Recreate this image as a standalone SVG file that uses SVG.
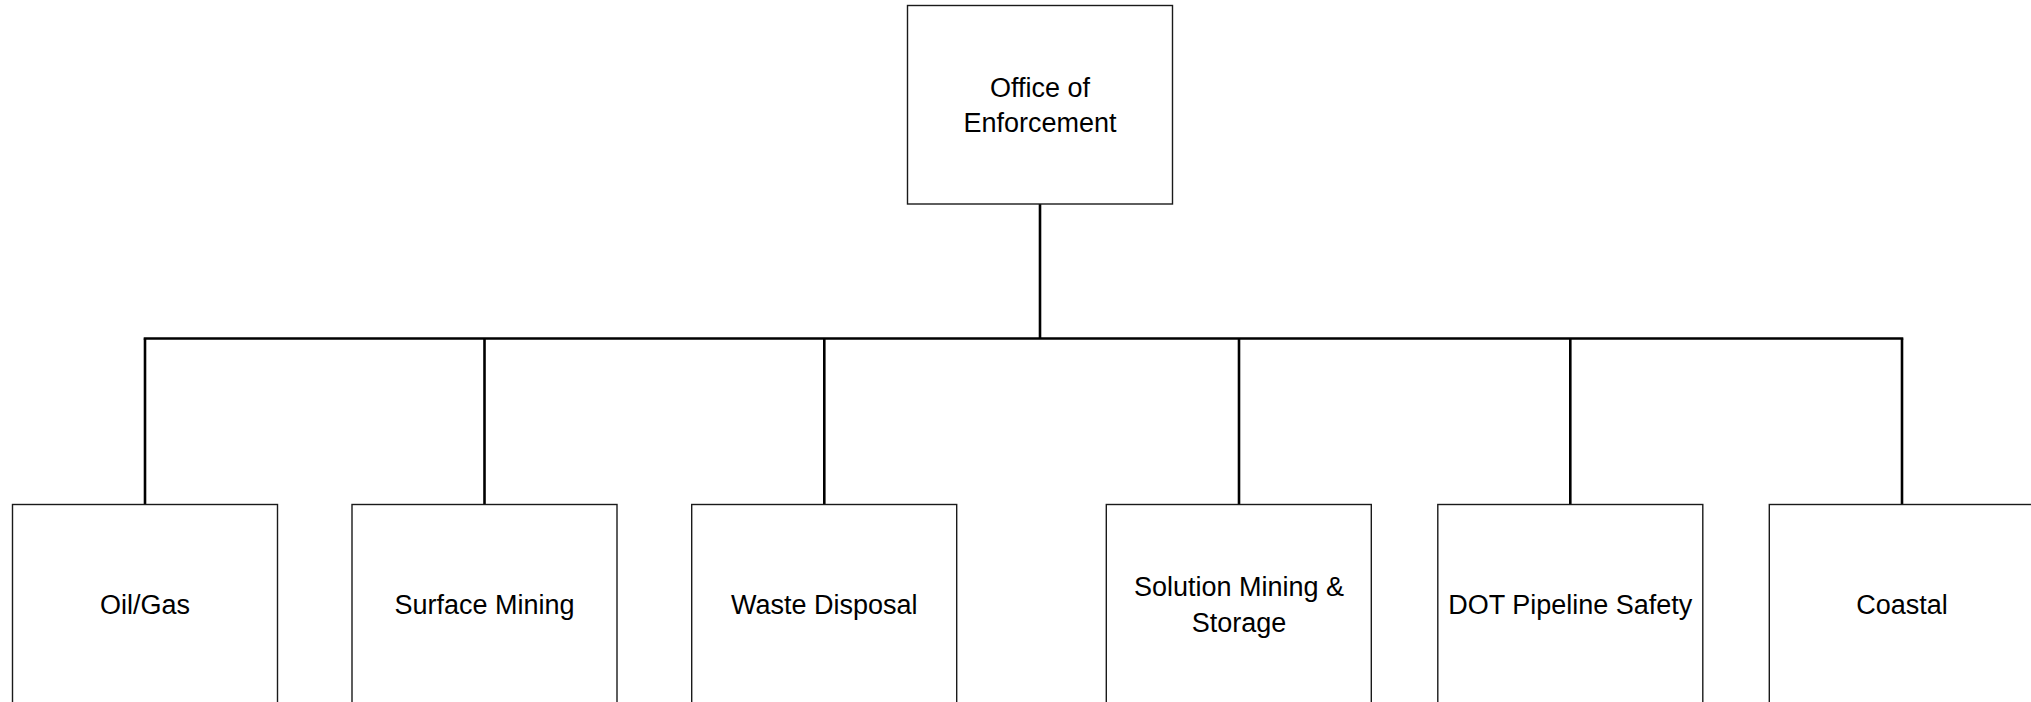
<svg xmlns="http://www.w3.org/2000/svg" width="2031" height="702" viewBox="0 0 2031 702">
<style>
.box{fill:#fff;stroke:#1a1a1a;stroke-width:1.4}
.lbl{font-family:"Liberation Sans",Arial,sans-serif;font-size:27px;fill:#000;text-anchor:middle}
.conn{fill:none;stroke:#000;stroke-width:2.6}
</style>
<rect width="2031" height="702" fill="#fff"/>
<g id="connectors">
<line class="conn" x1="1040" y1="204" x2="1040" y2="338.5"/>
<line class="conn" x1="143.7" y1="338.5" x2="1903.3" y2="338.5"/>
<line class="conn" x1="145" y1="338.5" x2="145" y2="504.5"/>
<line class="conn" x1="484.5" y1="338.5" x2="484.5" y2="504.5"/>
<line class="conn" x1="824.3" y1="338.5" x2="824.3" y2="504.5"/>
<line class="conn" x1="1239" y1="338.5" x2="1239" y2="504.5"/>
<line class="conn" x1="1570.3" y1="338.5" x2="1570.3" y2="504.5"/>
<line class="conn" x1="1902" y1="338.5" x2="1902" y2="504.5"/>
</g>
<g id="office">
<rect class="box" x="907.5" y="5.5" width="265" height="198.5"/>
<text class="lbl" x="1040" y="96.5">Office of</text>
<text class="lbl" x="1040" y="131.5">Enforcement</text>
</g>
<g id="oilgas">
<rect class="box" x="12.5" y="504.5" width="265" height="198.5"/>
<text class="lbl" x="145" y="614">Oil/Gas</text>
</g>
<g id="surface">
<rect class="box" x="352" y="504.5" width="265" height="198.5"/>
<text class="lbl" x="484.5" y="614">Surface Mining</text>
</g>
<g id="waste">
<rect class="box" x="691.7" y="504.5" width="265" height="198.5"/>
<text class="lbl" x="824.3" y="614">Waste Disposal</text>
</g>
<g id="solution">
<rect class="box" x="1106.3" y="504.5" width="265" height="198.5"/>
<text class="lbl" x="1239" y="596">Solution Mining &amp;</text>
<text class="lbl" x="1239" y="632">Storage</text>
</g>
<g id="dot">
<rect class="box" x="1437.8" y="504.5" width="265" height="198.5"/>
<text class="lbl" x="1570.3" y="614">DOT Pipeline Safety</text>
</g>
<g id="coastal">
<rect class="box" x="1769.3" y="504.5" width="265" height="198.5"/>
<text class="lbl" x="1902" y="614">Coastal</text>
</g>
</svg>
